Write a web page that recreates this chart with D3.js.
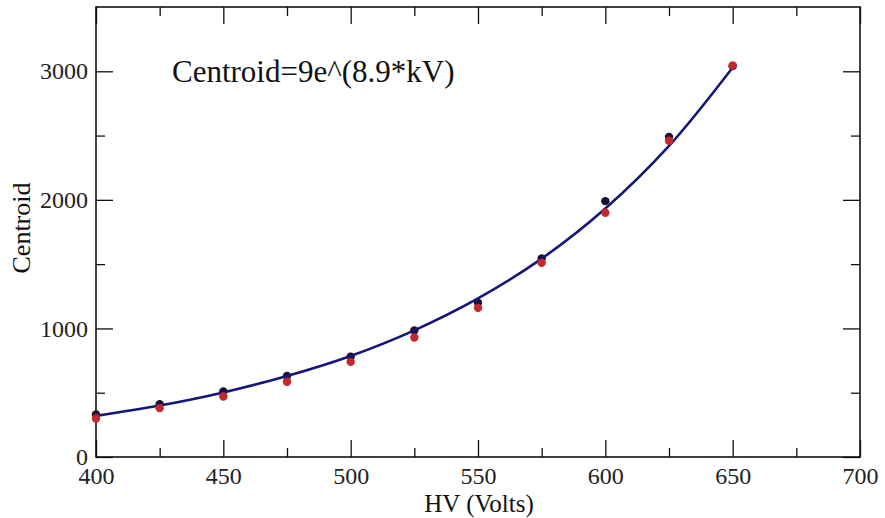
<!DOCTYPE html>
<html>
<head>
<meta charset="utf-8">
<script src="https://cdn.jsdelivr.net/npm/d3@7/dist/d3.min.js"></script>
<style>
  html, body { margin: 0; padding: 0; background: #fff; }
  svg { display: block; }
</style>
</head>
<body>
<svg id="chart" width="885" height="518"></svg>
<script>
// ---- data ----
const hv = [400, 425, 450, 475, 500, 525, 550, 575, 600, 625, 650];
const centroidA = [330, 410, 510, 630, 780, 985, 1200, 1545, 1990, 2490, 3040];   // dark points
const centroidB = [300, 380, 470, 585, 740, 930, 1160, 1510, 1900, 2460, 3045];   // red points
const fitCurve = [320, 400, 502, 630, 786, 985, 1233, 1543, 1933, 2420, 3030];    // fitted line
const xMajorTicks = [400, 450, 500, 550, 600, 650, 700];
const xMinorTicks = [425, 475, 525, 575, 625, 675];
const yMajorTicks = [0, 1000, 2000, 3000];
const yMinorTicks = [500, 1500, 2500];
const fitLabel = "Centroid=9e^(8.9*kV)";
const xTitle = "HV (Volts)";
const yTitle = "Centroid";

const FONT = "'Liberation Serif', 'Times New Roman', 'DejaVu Serif', serif";
const svg = d3.select("#chart");
const m = { left: 96, right: 885 - 860, top: 7, bottom: 518 - 457 };
const W = 885, H = 518;
const x = d3.scaleLinear().domain([400, 700]).range([m.left, W - m.right]);
const y = d3.scaleLinear().domain([0, 3500]).range([H - m.bottom, m.top]);

const major = 17, minor = 9;
const g = svg.append("g");

function ax(axisFn, scale, ticks, len, transform, labels) {
  const a = axisFn(scale).tickValues(ticks).tickSizeInner(-len).tickSizeOuter(0)
    .tickFormat(labels ? d3.format("d") : "");
  const sel = g.append("g").attr("transform", transform).call(a)
    .attr("font-family", null).attr("font-size", null);
  sel.select(".domain").remove();
  sel.selectAll(".tick line").attr("stroke", "#111").attr("stroke-width", 1.3);
  sel.selectAll(".tick text").style("font-size", "24px").style("font-family", FONT).attr("fill", "#222");
  return sel;
}
const bottomY = y(0), topY = y(3500), leftX = x(400), rightX = x(700);
const xb = ax(d3.axisBottom, x, xMajorTicks, major, `translate(0,${bottomY})`, true);
xb.selectAll(".tick text").attr("dy", 0).attr("y", 27);
ax(d3.axisBottom, x, xMinorTicks, minor, `translate(0,${bottomY})`, false);
ax(d3.axisTop, x, xMajorTicks, major, `translate(0,${topY})`, false);
ax(d3.axisTop, x, xMinorTicks, minor, `translate(0,${topY})`, false);
const yl = ax(d3.axisLeft, y, yMajorTicks, major, `translate(${leftX},0)`, true);
yl.selectAll(".tick text").attr("x", -8);
ax(d3.axisLeft, y, yMinorTicks, minor, `translate(${leftX},0)`, false);
ax(d3.axisRight, y, yMajorTicks, major, `translate(${rightX},0)`, false);
ax(d3.axisRight, y, yMinorTicks, minor, `translate(${rightX},0)`, false);

// frame
g.append("rect").attr("x", leftX).attr("y", topY)
  .attr("width", rightX - leftX).attr("height", bottomY - topY)
  .attr("fill", "none").attr("stroke", "#111").attr("stroke-width", 1.6);

// dark points
g.append("g").selectAll("circle").data(hv).join("circle")
  .attr("cx", d => x(d)).attr("cy", (d, i) => y(centroidA[i])).attr("r", 4.2)
  .attr("fill", "#1a1030");

// fitted line
const line = d3.line().x(d => x(d)).y((d, i) => y(fitCurve[i])).curve(d3.curveCatmullRom);
g.append("path").datum(hv).attr("d", line)
  .attr("fill", "none").attr("stroke", "#15157a").attr("stroke-width", 2.6);

// red points
g.append("g").selectAll("circle").data(hv).join("circle")
  .attr("cx", d => x(d)).attr("cy", (d, i) => y(centroidB[i])).attr("r", 4.2)
  .attr("fill", "#c42828");

// annotation
svg.append("text").attr("x", 172).attr("y", 82)
  .style("font-family", FONT).style("font-size", "31px").attr("fill", "#111").text(fitLabel);

// axis titles
svg.append("text").attr("x", (leftX + rightX) / 2 + 1).attr("y", 512)
  .attr("text-anchor", "middle").style("font-family", FONT).style("font-size", "25px")
  .attr("fill", "#111").text(xTitle);
svg.append("text").attr("transform", `translate(30,${(topY + bottomY) / 2 - 4}) rotate(-90)`)
  .attr("text-anchor", "middle").style("font-family", FONT).style("font-size", "26px")
  .attr("fill", "#111").text(yTitle);
</script>
</body>
</html>
